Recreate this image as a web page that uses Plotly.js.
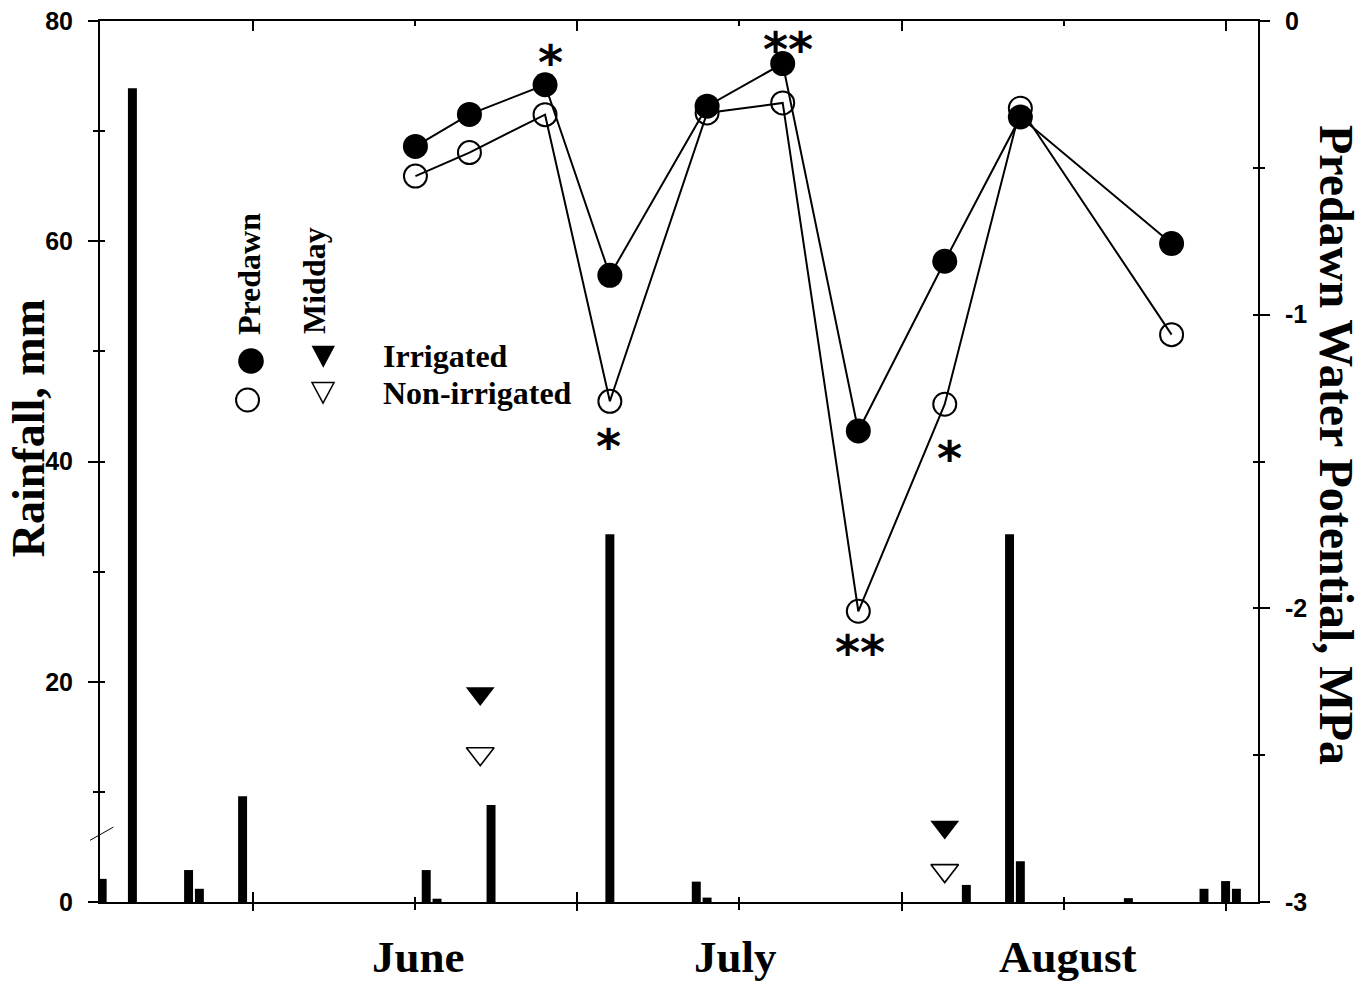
<!DOCTYPE html>
<html>
<head>
<meta charset="utf-8">
<script src="https://cdn.plot.ly/plotly-3.0.1.min.js"></script>
<style>
html,body{margin:0;padding:0;background:#fff;}
#chart{width:1364px;height:988px;}
</style>
</head>
<body>
<div id="chart"></div>
<script>
// ---- Data ----
// Daily rainfall: day index along the season axis (ticks every 15 days), mm
const rainDays = [1, 3.8, 9, 10, 14, 31, 32, 37, 48, 56, 57, 81, 85, 86, 96, 103, 105, 106];
const rainMM   = [2.1, 73.9, 2.9, 1.2, 9.6, 2.9, 0.3, 8.8, 33.4, 1.85, 0.4, 1.55, 33.4, 3.7, 0.35, 1.2, 1.9, 1.2];

// Predawn water potential, MPa
const predawnDays = [30, 35, 42, 48, 57, 64, 71, 79, 86, 100];
const predawnIrrigated    = [-0.427, -0.318, -0.217, -0.866, -0.290, -0.145, -1.396, -0.818, -0.327, -0.758];
const predawnNonIrrigated = [-0.528, -0.448, -0.319, -1.295, -0.313, -0.279, -2.010, -1.305, -0.297, -1.068];

// Midday water potential, MPa
const middayDays = [36, 79];
const middayIrrigated    = [-2.290, -2.745];
const middayNonIrrigated = [-2.495, -2.893];

// Month labels
const monthLabels = ['June', 'July', 'August'];
const monthLabelDays = [30.3, 59.6, 90.4];

// Significance markers
const sigLabels = ['*', '**', '*', '**', '*'];
const sigDays   = [42.5, 64.5, 47.9, 71.2, 79.4];
const sigPos    = [-0.110, -0.066, -1.418, -2.119, -1.458];

// Axis tick labels
const rainTickVals = [0, 20, 40, 60, 80];
const rainTickText = ['0', '20', '40', '60', '80'];
const wpTickVals = [-3, -2, -1, 0];
const wpTickText = ['-3', '-2', '-1', '0'];

// ---- Styling ----
const BLACK = '#000000';
const serif = 'Liberation Serif, Times New Roman, serif';
const sans = 'Liberation Sans, Arial, sans-serif';
const XR = [0.8, 108.0];

const traces = [
  {
    type: 'bar', x: rainDays, y: rainMM, width: 0.83,
    marker: {color: BLACK, line: {width: 0}},
    xaxis: 'x', yaxis: 'y', showlegend: false, hoverinfo: 'skip'
  },
  {
    type: 'scatter', mode: 'lines+markers', x: predawnDays, y: predawnNonIrrigated,
    line: {color: BLACK, width: 2},
    marker: {symbol: 'circle-open', size: 23, color: BLACK, line: {width: 2, color: BLACK}},
    xaxis: 'x', yaxis: 'y2', showlegend: false, hoverinfo: 'skip'
  },
  {
    type: 'scatter', mode: 'lines+markers', x: predawnDays, y: predawnIrrigated,
    line: {color: BLACK, width: 2},
    marker: {symbol: 'circle', size: 25, color: BLACK},
    xaxis: 'x', yaxis: 'y2', showlegend: false, hoverinfo: 'skip'
  },
  {
    type: 'scatter', mode: 'markers', x: middayDays, y: middayIrrigated,
    marker: {symbol: 'triangle-down', size: 25, color: BLACK},
    xaxis: 'x', yaxis: 'y2', showlegend: false, hoverinfo: 'skip'
  },
  {
    type: 'scatter', mode: 'markers', x: middayDays, y: middayNonIrrigated,
    marker: {symbol: 'triangle-down-open', size: 24, color: BLACK, line: {width: 1.6, color: BLACK}},
    xaxis: 'x', yaxis: 'y2', showlegend: false, hoverinfo: 'skip'
  },
  // carriers for the extra tick-only axes
  {type: 'scatter', mode: 'markers', x: [null], y: [null], xaxis: 'x3', yaxis: 'y3', showlegend: false, hoverinfo: 'skip'},
  {type: 'scatter', mode: 'markers', x: [null], y: [null], xaxis: 'x4', yaxis: 'y4', showlegend: false, hoverinfo: 'skip'}
];

const tickFont = {family: sans, size: 25, color: BLACK, weight: 700};

const annotations = [];
monthLabels.forEach((m, i) => annotations.push({
  text: m, x: monthLabelDays[i], xref: 'x', y: -0.0625, yref: 'paper',
  xanchor: 'center', yanchor: 'middle', showarrow: false,
  font: {family: serif, size: 45, color: BLACK, weight: 700}
}));
sigLabels.forEach((s, i) => annotations.push({
  text: s, x: sigDays[i], xref: 'x', y: sigPos[i], yref: 'y2',
  xanchor: 'center', yanchor: 'middle', showarrow: false, yshift: -9,
  font: {family: 'DejaVu Sans, sans-serif', size: 48, color: BLACK, weight: 700}
}));
// axis titles
annotations.push({
  text: 'Rainfall, mm', x: -0.0615, xref: 'paper', y: 0.5375, yref: 'paper', textangle: -90,
  xanchor: 'center', yanchor: 'middle', showarrow: false,
  font: {family: serif, size: 46, color: BLACK, weight: 700}
});
annotations.push({
  text: 'Predawn Water Potential, MPa', x: 1.0682, xref: 'paper', y: 0.5187, yref: 'paper', textangle: 90,
  xanchor: 'center', yanchor: 'middle', showarrow: false,
  font: {family: serif, size: 48, color: BLACK, weight: 700}
});
// legend texts
const legFont = {family: serif, size: 32, color: BLACK, weight: 700};
annotations.push({text: 'Predawn', x: 0.1287, xref: 'paper', y: 0.7128, yref: 'paper', textangle: -90,
  xanchor: 'center', yanchor: 'middle', showarrow: false, font: legFont});
annotations.push({text: 'Midday', x: 0.1848, xref: 'paper', y: 0.706, yref: 'paper', textangle: -90,
  xanchor: 'center', yanchor: 'middle', showarrow: false, font: legFont});
annotations.push({text: 'Irrigated', x: 0.2444, xref: 'paper', y: 0.6199, yref: 'paper',
  xanchor: 'left', yanchor: 'middle', showarrow: false, font: legFont, xshift: -2});
annotations.push({text: 'Non-irrigated', x: 0.2444, xref: 'paper', y: 0.5783, yref: 'paper',
  xanchor: 'left', yanchor: 'middle', showarrow: false, font: legFont, xshift: -2});

const shapes = [
  // axis break mark on the rainfall axis
  {type: 'line', xref: 'paper', yref: 'y', x0: -0.0086, x1: 0.0115, y0: 5.6, y1: 6.8,
   line: {color: BLACK, width: 1}},
  // legend symbols
  {type: 'circle', xref: 'paper', yref: 'paper', xsizemode: 'pixel', ysizemode: 'pixel',
   xanchor: 0.1304, yanchor: 0.6141, x0: -12.8, x1: 12.8, y0: -12.8, y1: 12.8,
   fillcolor: BLACK, line: {width: 0}},
  {type: 'circle', xref: 'paper', yref: 'paper', xsizemode: 'pixel', ysizemode: 'pixel',
   xanchor: 0.1274, yanchor: 0.5698, x0: -11.5, x1: 11.5, y0: -11.5, y1: 11.5,
   fillcolor: 'rgba(0,0,0,0)', line: {width: 2, color: BLACK}},
  {type: 'path', xref: 'paper', yref: 'paper', xsizemode: 'pixel', ysizemode: 'pixel',
   xanchor: 0.1928, yanchor: 0.619, path: 'M-11.7,11L11.7,11L0,-11Z',
   fillcolor: BLACK, line: {width: 0}},
  {type: 'path', xref: 'paper', yref: 'paper', xsizemode: 'pixel', ysizemode: 'pixel',
   xanchor: 0.1926, yanchor: 0.5779, path: 'M-11,10.3L11,10.3L0,-10.3Z',
   fillcolor: 'rgba(0,0,0,0)', line: {width: 1.5, color: BLACK}}
];

const layout = {
  width: 1364, height: 988,
  margin: {l: 100, r: 106, t: 21, b: 86, pad: 0},
  paper_bgcolor: '#ffffff', plot_bgcolor: '#ffffff',
  showlegend: false, hovermode: false,
  xaxis: {
    range: XR, tickmode: 'linear', tick0: 15, dtick: 30,
    ticks: 'outside', ticklen: 7, tickwidth: 2, tickcolor: BLACK,
    minor: {tickmode: 'linear', tick0: 15, dtick: 15, ticks: 'outside', ticklen: 6, tickwidth: 2, tickcolor: BLACK, showgrid: false},
    showticklabels: false, showline: true, linewidth: 2, linecolor: BLACK,
    showgrid: false, zeroline: false, fixedrange: true
  },
  xaxis3: {
    overlaying: 'x', anchor: 'y', side: 'bottom', range: XR,
    tickmode: 'linear', tick0: 15, dtick: 30,
    ticks: 'inside', ticklen: 10, tickwidth: 2, tickcolor: BLACK,
    minor: {tickmode: 'linear', tick0: 15, dtick: 15, ticks: 'inside', ticklen: 5, tickwidth: 2, tickcolor: BLACK, showgrid: false},
    showticklabels: false, showline: false, showgrid: false, zeroline: false, fixedrange: true
  },
  xaxis4: {
    overlaying: 'x', anchor: 'y', side: 'top', range: XR,
    tickmode: 'linear', tick0: 15, dtick: 30,
    ticks: 'inside', ticklen: 10, tickwidth: 2, tickcolor: BLACK,
    minor: {tickmode: 'linear', tick0: 15, dtick: 15, ticks: 'inside', ticklen: 5, tickwidth: 2, tickcolor: BLACK, showgrid: false},
    showticklabels: false, showline: true, linewidth: 2, linecolor: BLACK,
    showgrid: false, zeroline: false, fixedrange: true
  },
  yaxis: {
    range: [0, 80], tickmode: 'array', tickvals: rainTickVals, ticktext: rainTickText,
    ticks: 'outside', ticklen: 10, tickwidth: 2, tickcolor: BLACK,
    minor: {tickmode: 'linear', tick0: 0, dtick: 10, ticks: 'outside', ticklen: 5, tickwidth: 2, tickcolor: BLACK, showgrid: false},
    tickfont: tickFont, ticklabelstandoff: 10,
    showline: true, linewidth: 2, linecolor: BLACK,
    showgrid: false, zeroline: false, fixedrange: true
  },
  yaxis3: {
    overlaying: 'y', anchor: 'x', side: 'left', range: [0, 80],
    tickmode: 'linear', tick0: 0, dtick: 20,
    ticks: 'inside', ticklen: 5, tickwidth: 2, tickcolor: BLACK,
    minor: {tickmode: 'linear', tick0: 0, dtick: 10, ticks: 'inside', ticklen: 5, tickwidth: 2, tickcolor: BLACK, showgrid: false},
    showticklabels: false, showline: false, showgrid: false, zeroline: false, fixedrange: true
  },
  yaxis2: {
    overlaying: 'y', anchor: 'x', side: 'right', range: [-3, 0],
    tickmode: 'array', tickvals: wpTickVals, ticktext: wpTickText,
    ticks: 'outside', ticklen: 10, tickwidth: 2, tickcolor: BLACK,
    minor: {tickmode: 'linear', tick0: 0, dtick: 0.5, ticks: 'outside', ticklen: 5, tickwidth: 2, tickcolor: BLACK, showgrid: false},
    tickfont: tickFont, ticklabelstandoff: 10,
    showline: true, linewidth: 2, linecolor: BLACK,
    showgrid: false, zeroline: false, fixedrange: true
  },
  yaxis4: {
    overlaying: 'y', anchor: 'x', side: 'right', range: [-3, 0],
    tickmode: 'linear', tick0: 0, dtick: 1,
    ticks: 'inside', ticklen: 5, tickwidth: 2, tickcolor: BLACK,
    minor: {tickmode: 'linear', tick0: 0, dtick: 0.5, ticks: 'inside', ticklen: 5, tickwidth: 2, tickcolor: BLACK, showgrid: false},
    showticklabels: false, showline: false, showgrid: false, zeroline: false, fixedrange: true
  },
  annotations: annotations,
  shapes: shapes
};

Plotly.newPlot('chart', traces, layout, {displayModeBar: false, staticPlot: true});
</script>
</body>
</html>
